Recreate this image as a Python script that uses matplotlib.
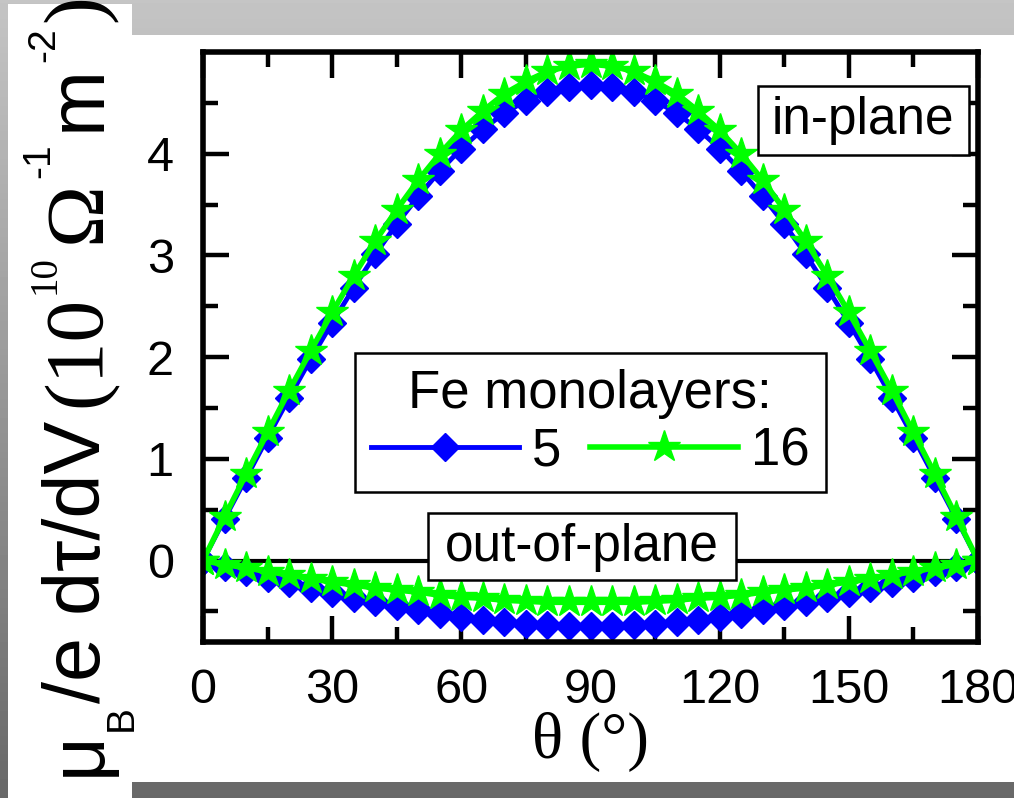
import numpy as np
import matplotlib
matplotlib.use("Agg")
import matplotlib.pyplot as plt
from matplotlib.patches import Rectangle
from matplotlib.ticker import FixedLocator

# torque derivative vs. magnetization angle, in-plane and out-of-plane
theta = list(range(0, 181, 5))

ml5_in = [0.00, 0.41, 0.81, 1.21, 1.60, 1.98, 2.34, 2.68, 3.01, 3.31, 3.58, 3.83, 4.05,
          4.24, 4.40, 4.52, 4.61, 4.66, 4.68, 4.66, 4.61, 4.52, 4.40, 4.24, 4.05, 3.83,
          3.58, 3.31, 3.01, 2.68, 2.34, 1.98, 1.60, 1.21, 0.81, 0.41, 0.00]
ml16_in = [0.00, 0.43, 0.85, 1.26, 1.67, 2.06, 2.44, 2.80, 3.14, 3.45, 3.74, 4.00, 4.23,
           4.42, 4.59, 4.71, 4.81, 4.86, 4.88, 4.86, 4.81, 4.71, 4.59, 4.42, 4.23, 4.00,
           3.74, 3.45, 3.14, 2.80, 2.44, 2.06, 1.67, 1.26, 0.85, 0.43, 0.00]
ml5_out = [0.00, -0.06, -0.11, -0.17, -0.22, -0.27, -0.32, -0.37, -0.41, -0.45, -0.49, -0.52,
           -0.55, -0.58, -0.60, -0.62, -0.63, -0.64, -0.64, -0.64, -0.63, -0.62, -0.60, -0.58,
           -0.55, -0.52, -0.49, -0.45, -0.41, -0.37, -0.32, -0.27, -0.22, -0.17, -0.11, -0.06, 0.00]
ml16_out = [0.00, -0.04, -0.07, -0.11, -0.14, -0.18, -0.21, -0.24, -0.27, -0.29, -0.31, -0.34,
            -0.36, -0.37, -0.39, -0.40, -0.41, -0.41, -0.41, -0.41, -0.41, -0.40, -0.39, -0.37,
            -0.36, -0.34, -0.31, -0.29, -0.27, -0.24, -0.21, -0.18, -0.14, -0.11, -0.07, -0.04, 0.00]

series_labels = ["5", "16"]
legend_title = "Fe monolayers:"
xticks = [0, 30, 60, 90, 120, 150, 180]
yticks = [0, 1, 2, 3, 4]

SANS = "Liberation Sans"
SERIF = "Liberation Serif"
plt.rcParams["font.family"] = [SANS, "DejaVu Sans"]

W, H = 1014, 798
fig = plt.figure(figsize=(W / 100, H / 100), dpi=100)

# grey slide background with white panels
bg = fig.add_axes([0, 0, 1, 1], zorder=-10)
bg.axis("off")
grad = np.linspace(0.77, 0.41, 256)[:, None]
bg.imshow(grad, cmap="gray", vmin=0, vmax=1, aspect="auto", extent=[0, W, H, 0])
bg.add_patch(Rectangle((8, 4), 124, H - 4, fc="white", ec="none"))
bg.add_patch(Rectangle((132, 35), W - 132, 747, fc="white", ec="none"))
bg.set_xlim(0, W)
bg.set_ylim(H, 0)

ax = fig.add_axes([203 / W, 1 - 642 / H, 775 / W, 590 / H])
ax.axhline(0, color="k", lw=3, zorder=1.5)

blue = "#0000ff"
green = "#00ff00"
l5, = ax.plot(theta, ml5_in, color=blue, lw=3.5, marker="D", ms=14, mec=blue, zorder=2)
ax.plot(theta, ml5_out, color=blue, lw=3.5, marker="D", ms=14, mec=blue, zorder=2)
l16, = ax.plot(theta, ml16_in, color=green, lw=4, marker="*", ms=24, mec=green, zorder=2.1)
ax.plot(theta, ml16_out, color=green, lw=4, marker="*", ms=24, mec=green, zorder=2.1)

ax.set_xlim(0, 180)
ax.set_ylim(-0.8, 5.0)
ax.set_xticks(xticks)
ax.xaxis.set_minor_locator(FixedLocator(range(15, 180, 30)))
ax.set_yticks(yticks)
ax.yaxis.set_minor_locator(FixedLocator(np.arange(-0.5, 5, 1.0)))
ax.tick_params(which="both", direction="in", top=True, right=True, width=3.2, labelsize=35)
ax.tick_params(which="major", length=19)
ax.tick_params(which="minor", length=11)
ax.tick_params(axis="x", pad=19)
ax.tick_params(axis="y", pad=21)
for sp in ax.spines.values():
    sp.set_linewidth(4)

ax.set_xlabel("θ (°)", family=SERIF, fontsize=47, labelpad=-1)

# annotation boxes
ax.add_patch(Rectangle((0.716, 0.825), 0.272, 0.117, transform=ax.transAxes,
                       fc="white", ec="k", lw=1.8, zorder=3))
ax.text(0.852, 0.884, "in-plane", transform=ax.transAxes, fontsize=37,
        ha="center", va="center", zorder=4)
ax.add_patch(Rectangle((0.290, 0.105), 0.398, 0.114, transform=ax.transAxes,
                       fc="white", ec="k", lw=1.8, zorder=3))
ax.text(0.489, 0.160, "out-of-plane", transform=ax.transAxes, fontsize=37,
        ha="center", va="center", zorder=4)

leg = ax.legend([l5, l16], series_labels, title=legend_title, ncol=2,
                loc="upper left", bbox_to_anchor=(0.196, 0.49), borderaxespad=0,
                fancybox=False, edgecolor="k", framealpha=1, fontsize=38,
                title_fontsize=38, handlelength=2.8, handletextpad=0.25,
                columnspacing=0.55, borderpad=0.3, labelspacing=0.15, numpoints=1)
leg.get_frame().set_linewidth(1.8)

# y label assembled piece by piece (mixed fonts, sub/superscripts)
label_parts = [
    ("μ", SANS, 56, 0, 0),
    ("B", SANS, 28, 32, 0),
    ("/e dτ/dV", SANS, 57, 0, 2),
    ("(10", SERIF, 60, 0, 14),
    ("10", SERIF, 28, -45, 2),
    ("Ω", SERIF, 60, 0, 12),
    ("-1", SANS, 28, -51, 3),
    ("m", SANS, 57, 0, 12),
    ("-2", SANS, 28, -46, 3),
    (")", SERIF, 60, 0, 6),
]
fig.canvas.draw()
renderer = fig.canvas.get_renderer()
ypos = 22
base_x = 100
for txt, fam, size, shift, gap in label_parts:
    ypos += gap
    t = fig.text((base_x + shift) / W, ypos / H, txt, family=fam, fontsize=size,
                 rotation=90, rotation_mode="anchor", ha="left", va="baseline")
    ypos += t.get_window_extent(renderer).height

fig.savefig("out.png", dpi=100)
